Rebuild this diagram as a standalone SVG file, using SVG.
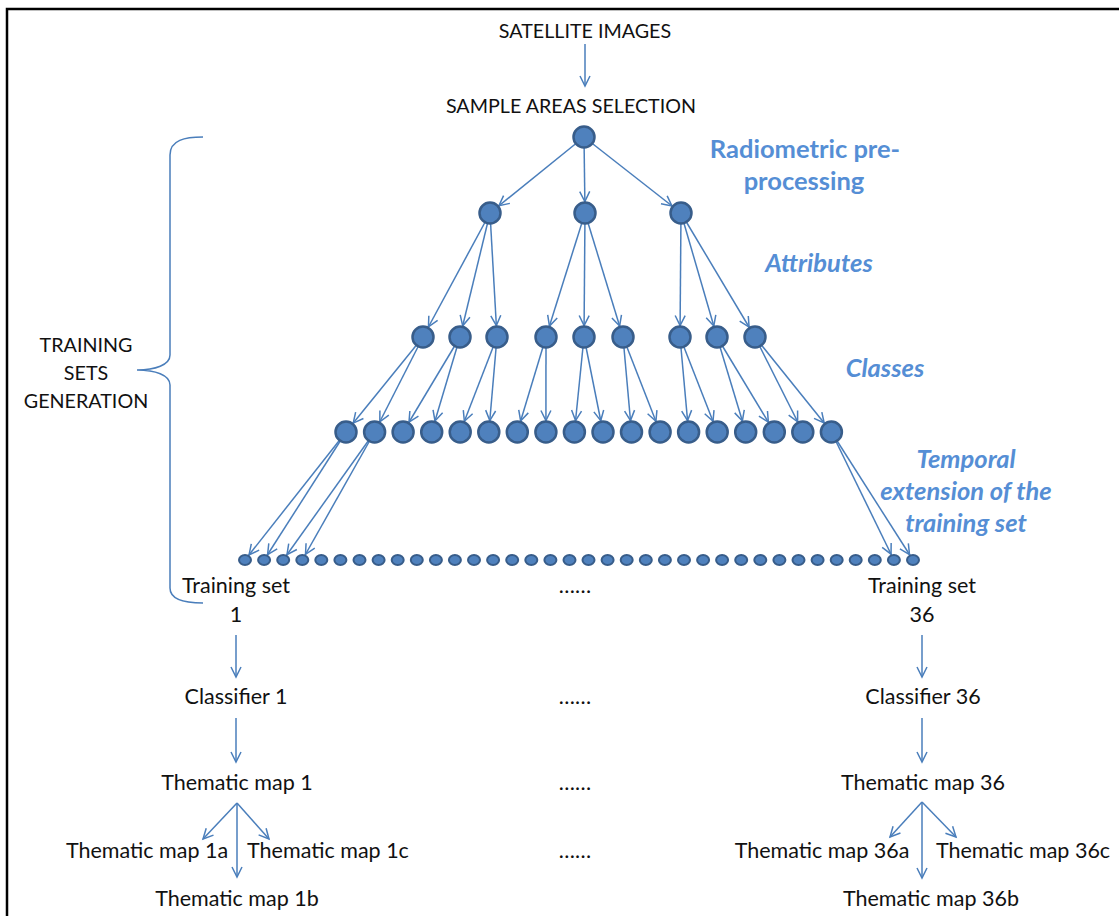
<svg xmlns="http://www.w3.org/2000/svg" width="1119" height="916" viewBox="0 0 1119 916">
<style>
.t{font-family:Lato,"Liberation Sans",sans-serif;font-size:21.5px;fill:#111;text-anchor:middle}
.u{font-size:19.7px}
.b{font-family:Lato,"Liberation Sans",sans-serif;font-size:25.5px;font-weight:bold;fill:#558ed5;text-anchor:middle}
.bi{font-style:italic}
.c{stroke:#4a7ebb;stroke-width:1.5;fill:none}
.n{fill:#4f81bd;stroke:#385d8a;stroke-width:2.5}
.d{fill:#4f81bd;stroke:#385d8a;stroke-width:2}
.m{stroke:#4a7ebb;stroke-width:1.5;fill:none}
</style>
<defs>
<marker id="ah" markerUnits="userSpaceOnUse" orient="auto" style="overflow:visible"><path class="m" d="M-10,-5 L0,0 L-10,5"/></marker>
<marker id="an" markerUnits="userSpaceOnUse" orient="auto" style="overflow:visible"><path class="m" d="M-21.5,-5 L-11.5,0 L-21.5,5"/></marker>
<marker id="ad" markerUnits="userSpaceOnUse" orient="auto" style="overflow:visible"><path class="m" d="M-16.5,-5 L-6.5,0 L-16.5,5"/></marker>
</defs>
<rect width="1119" height="916" fill="#fff"/>
<path d="M7,916 L7,9 L1119,9" fill="none" stroke="#000" stroke-width="2.5"/>

<g id="connectors">
<g marker-end="url(#ah)" class="c">
<line x1="585" y1="44" x2="585" y2="86"/>
<line x1="236" y1="635" x2="236" y2="677"/>
<line x1="236" y1="718" x2="236" y2="762"/>
<line x1="922" y1="635" x2="922" y2="677"/>
<line x1="922" y1="718" x2="922" y2="762"/>
<line x1="237" y1="803" x2="203" y2="839"/>
<line x1="237" y1="803" x2="237" y2="877"/>
<line x1="237" y1="803" x2="269" y2="839"/>
<line x1="922" y1="802" x2="890" y2="837"/>
<line x1="922" y1="802" x2="922" y2="878"/>
<line x1="922" y1="802" x2="956" y2="837"/>
</g>
<g marker-end="url(#an)" class="c">
<line x1="584" y1="137" x2="490" y2="213"/>
<line x1="584" y1="137" x2="585" y2="213"/>
<line x1="584" y1="137" x2="681" y2="213"/>
<line x1="490" y1="213" x2="423" y2="337"/>
<line x1="490" y1="213" x2="460" y2="337"/>
<line x1="490" y1="213" x2="497" y2="337"/>
<line x1="585" y1="213" x2="546" y2="337"/>
<line x1="585" y1="213" x2="584" y2="337"/>
<line x1="585" y1="213" x2="623" y2="337"/>
<line x1="681" y1="213" x2="680" y2="337"/>
<line x1="681" y1="213" x2="717" y2="337"/>
<line x1="681" y1="213" x2="755" y2="337"/>
<line x1="423" y1="337" x2="346" y2="432"/>
<line x1="423" y1="337" x2="374.6" y2="432"/>
<line x1="460" y1="337" x2="403.1" y2="432"/>
<line x1="460" y1="337" x2="431.7" y2="432"/>
<line x1="497" y1="337" x2="460.2" y2="432"/>
<line x1="497" y1="337" x2="488.8" y2="432"/>
<line x1="546" y1="337" x2="517.3" y2="432"/>
<line x1="546" y1="337" x2="545.9" y2="432"/>
<line x1="584" y1="337" x2="574.4" y2="432"/>
<line x1="584" y1="337" x2="603" y2="432"/>
<line x1="623" y1="337" x2="631.5" y2="432"/>
<line x1="623" y1="337" x2="660.1" y2="432"/>
<line x1="680" y1="337" x2="688.6" y2="432"/>
<line x1="680" y1="337" x2="717.2" y2="432"/>
<line x1="717" y1="337" x2="745.7" y2="432"/>
<line x1="717" y1="337" x2="774.3" y2="432"/>
<line x1="755" y1="337" x2="802.8" y2="432"/>
<line x1="755" y1="337" x2="831.4" y2="432"/>
</g>
<g marker-end="url(#ad)" class="c">
<line x1="346" y1="432" x2="245" y2="560"/>
<line x1="346" y1="432" x2="264.1" y2="560"/>
<line x1="374.6" y1="432" x2="283.2" y2="560"/>
<line x1="374.6" y1="432" x2="302.3" y2="560"/>
<line x1="831.4" y1="432" x2="893.9" y2="560"/>
<line x1="831.4" y1="432" x2="913" y2="560"/>
</g>
<path id="brace" class="c" d="M203,137 C185,137 170,140 170,155 L170,355 C170,365 155,370 137,370 C155,370 170,375 170,385 L170,588 C170,600 185,603 203,603"/>
</g>

<g id="root"><circle class="n" cx="584" cy="137" r="10.5"/></g>
<g id="level1">
<circle class="n" cx="490" cy="213" r="10.5"/>
<circle class="n" cx="585" cy="213" r="10.5"/>
<circle class="n" cx="681" cy="213" r="10.5"/>
</g>
<g id="level2">
<circle class="n" cx="423" cy="337" r="10.5"/>
<circle class="n" cx="460" cy="337" r="10.5"/>
<circle class="n" cx="497" cy="337" r="10.5"/>
<circle class="n" cx="546" cy="337" r="10.5"/>
<circle class="n" cx="584" cy="337" r="10.5"/>
<circle class="n" cx="623" cy="337" r="10.5"/>
<circle class="n" cx="680" cy="337" r="10.5"/>
<circle class="n" cx="717" cy="337" r="10.5"/>
<circle class="n" cx="755" cy="337" r="10.5"/>
</g>
<g id="level3">
<circle class="n" cx="346" cy="432" r="10.5"/>
<circle class="n" cx="374.6" cy="432" r="10.5"/>
<circle class="n" cx="403.1" cy="432" r="10.5"/>
<circle class="n" cx="431.7" cy="432" r="10.5"/>
<circle class="n" cx="460.2" cy="432" r="10.5"/>
<circle class="n" cx="488.8" cy="432" r="10.5"/>
<circle class="n" cx="517.3" cy="432" r="10.5"/>
<circle class="n" cx="545.9" cy="432" r="10.5"/>
<circle class="n" cx="574.4" cy="432" r="10.5"/>
<circle class="n" cx="603" cy="432" r="10.5"/>
<circle class="n" cx="631.5" cy="432" r="10.5"/>
<circle class="n" cx="660.1" cy="432" r="10.5"/>
<circle class="n" cx="688.6" cy="432" r="10.5"/>
<circle class="n" cx="717.2" cy="432" r="10.5"/>
<circle class="n" cx="745.7" cy="432" r="10.5"/>
<circle class="n" cx="774.3" cy="432" r="10.5"/>
<circle class="n" cx="802.8" cy="432" r="10.5"/>
<circle class="n" cx="831.4" cy="432" r="10.5"/>
</g>
<g id="level4">
<ellipse class="d" cx="245" cy="560" rx="6" ry="5"/>
<ellipse class="d" cx="264.1" cy="560" rx="6" ry="5"/>
<ellipse class="d" cx="283.2" cy="560" rx="6" ry="5"/>
<ellipse class="d" cx="302.3" cy="560" rx="6" ry="5"/>
<ellipse class="d" cx="321.3" cy="560" rx="6" ry="5"/>
<ellipse class="d" cx="340.4" cy="560" rx="6" ry="5"/>
<ellipse class="d" cx="359.5" cy="560" rx="6" ry="5"/>
<ellipse class="d" cx="378.6" cy="560" rx="6" ry="5"/>
<ellipse class="d" cx="397.7" cy="560" rx="6" ry="5"/>
<ellipse class="d" cx="416.8" cy="560" rx="6" ry="5"/>
<ellipse class="d" cx="435.9" cy="560" rx="6" ry="5"/>
<ellipse class="d" cx="454.9" cy="560" rx="6" ry="5"/>
<ellipse class="d" cx="474" cy="560" rx="6" ry="5"/>
<ellipse class="d" cx="493.1" cy="560" rx="6" ry="5"/>
<ellipse class="d" cx="512.2" cy="560" rx="6" ry="5"/>
<ellipse class="d" cx="531.3" cy="560" rx="6" ry="5"/>
<ellipse class="d" cx="550.4" cy="560" rx="6" ry="5"/>
<ellipse class="d" cx="569.5" cy="560" rx="6" ry="5"/>
<ellipse class="d" cx="588.5" cy="560" rx="6" ry="5"/>
<ellipse class="d" cx="607.6" cy="560" rx="6" ry="5"/>
<ellipse class="d" cx="626.7" cy="560" rx="6" ry="5"/>
<ellipse class="d" cx="645.8" cy="560" rx="6" ry="5"/>
<ellipse class="d" cx="664.9" cy="560" rx="6" ry="5"/>
<ellipse class="d" cx="684" cy="560" rx="6" ry="5"/>
<ellipse class="d" cx="703.1" cy="560" rx="6" ry="5"/>
<ellipse class="d" cx="722.1" cy="560" rx="6" ry="5"/>
<ellipse class="d" cx="741.2" cy="560" rx="6" ry="5"/>
<ellipse class="d" cx="760.3" cy="560" rx="6" ry="5"/>
<ellipse class="d" cx="779.4" cy="560" rx="6" ry="5"/>
<ellipse class="d" cx="798.5" cy="560" rx="6" ry="5"/>
<ellipse class="d" cx="817.6" cy="560" rx="6" ry="5"/>
<ellipse class="d" cx="836.7" cy="560" rx="6" ry="5"/>
<ellipse class="d" cx="855.7" cy="560" rx="6" ry="5"/>
<ellipse class="d" cx="874.8" cy="560" rx="6" ry="5"/>
<ellipse class="d" cx="893.9" cy="560" rx="6" ry="5"/>
<ellipse class="d" cx="913" cy="560" rx="6" ry="5"/>
</g>

<g id="labels">
<text class="t u" x="585" y="38">SATELLITE IMAGES</text>
<text class="t u" x="571" y="113">SAMPLE AREAS SELECTION</text>
<text class="t u" x="86" y="352">TRAINING</text>
<text class="t u" x="86" y="380">SETS</text>
<text class="t u" x="86" y="408">GENERATION</text>
<text class="b" x="805" y="158">Radiometric pre-</text>
<text class="b" x="804" y="190">processing</text>
<text class="b bi" x="819" y="272">Attributes</text>
<text class="b bi" x="885" y="377">Classes</text>
<text class="b bi" x="966" y="468">Temporal</text>
<text class="b bi" x="966" y="500">extension of the</text>
<text class="b bi" x="966" y="532">training set</text>
</g>
<g id="training1"><text class="t" x="236" y="593">Training set</text><text class="t" x="236" y="622">1</text></g>
<g id="training36"><text class="t" x="922" y="593">Training set</text><text class="t" x="922" y="622">36</text></g>
<g id="classifier1"><text class="t" x="236" y="704">Classifier 1</text></g>
<g id="classifier36"><text class="t" x="923" y="704">Classifier 36</text></g>
<g id="map1"><text class="t" x="237" y="790">Thematic map 1</text></g>
<g id="map36"><text class="t" x="923" y="790">Thematic map 36</text></g>
<g id="map1a"><text class="t" x="147" y="858">Thematic map 1a</text></g>
<g id="map1c"><text class="t" x="328" y="858">Thematic map 1c</text></g>
<g id="map1b"><text class="t" x="237" y="906">Thematic map 1b</text></g>
<g id="map36a"><text class="t" x="822" y="858">Thematic map 36a</text></g>
<g id="map36c"><text class="t" x="1023" y="858">Thematic map 36c</text></g>
<g id="map36b"><text class="t" x="931" y="906">Thematic map 36b</text></g>
<g id="ellipses">
<text class="t" x="575" y="593">……</text>
<text class="t" x="575" y="704">……</text>
<text class="t" x="575" y="790">……</text>
<text class="t" x="575" y="858">……</text>
</g>
</svg>
